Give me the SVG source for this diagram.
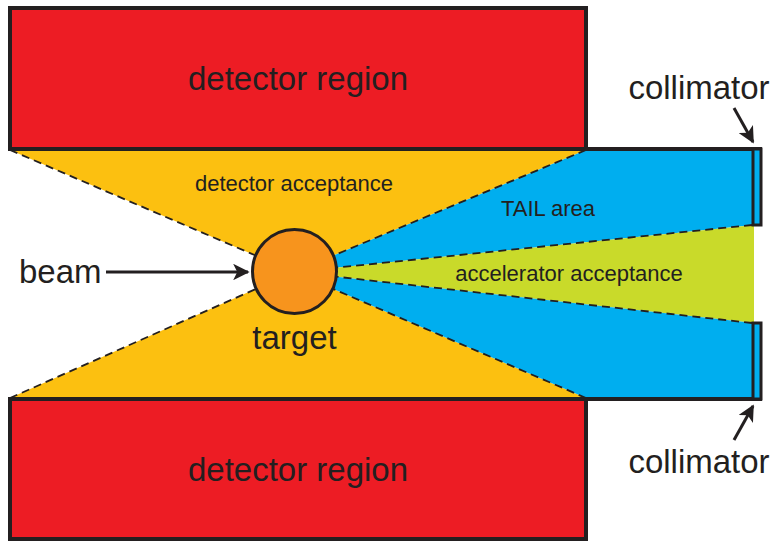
<svg xmlns="http://www.w3.org/2000/svg" width="782" height="542" viewBox="0 0 782 542">
<defs>
<style>
.lbl{font-family:"Liberation Sans",Arial,sans-serif;fill:#231F20}
.big{font-size:33px}
.sm{font-size:22px}
.dash{stroke:#231F20;stroke-width:1.8;stroke-dasharray:8 5;fill:none}
.edge{stroke:#231F20;stroke-width:4;fill:none}
</style>
<marker id="ah" viewBox="0 0 10 10" refX="9" refY="5" markerWidth="5.5" markerHeight="5.5" orient="auto" markerUnits="strokeWidth">
<path d="M0,0 L10,5 L0,10 L2.5,5 Z" fill="#231F20"/>
</marker>
</defs>
<rect width="782" height="542" fill="#fff"/>
<g id="fills">
<polygon points="10,150 586,150 294,272" fill="#FCC010"/>
<polygon points="10,398 586,398 294,272" fill="#FCC010"/>
<polygon points="294,272 586,150 754,150 754,225" fill="#00AEEF"/>
<polygon points="294,272 754,225 754,323" fill="#C9DA2A"/>
<polygon points="294,272 754,323 754,398 586,398" fill="#00AEEF"/>
</g>
<g id="connectors">
<line class="dash" x1="10" y1="150" x2="294" y2="272"/>
<line class="dash" x1="10" y1="398" x2="294" y2="272"/>
<line class="dash" x1="586" y1="150" x2="294" y2="272"/>
<line class="dash" x1="586" y1="398" x2="294" y2="272"/>
<line class="dash" x1="752" y1="225" x2="294" y2="272"/>
<line class="dash" x1="752" y1="323" x2="294" y2="272"/>
<line x1="106" y1="272" x2="248" y2="272" stroke="#231F20" stroke-width="3" marker-end="url(#ah)"/>
<line x1="734" y1="108" x2="753" y2="142" stroke="#231F20" stroke-width="3" marker-end="url(#ah)"/>
<line x1="734" y1="440" x2="753" y2="406" stroke="#231F20" stroke-width="3" marker-end="url(#ah)"/>
</g>
<g id="beamline-walls">
<line class="edge" x1="586" y1="149" x2="762" y2="149"/>
<line class="edge" x1="586" y1="399" x2="762" y2="399"/>
</g>
<g id="detector-top">
<rect x="10" y="8" width="576" height="141" fill="#ED1C24" stroke="#231F20" stroke-width="4"/>
<text class="lbl" x="298" y="90" font-size="33" text-anchor="middle">detector region</text>
</g>
<g id="detector-bottom">
<rect x="10" y="399" width="576" height="140" fill="#ED1C24" stroke="#231F20" stroke-width="4"/>
<text class="lbl" x="298" y="481" font-size="33" text-anchor="middle">detector region</text>
</g>
<g id="collimator-top">
<rect x="753" y="149" width="8" height="76" fill="#00AEEF" stroke="#231F20" stroke-width="3"/>
<text class="lbl big" x="699" y="99" text-anchor="middle">collimator</text>
</g>
<g id="collimator-bottom">
<rect x="753" y="323" width="8" height="76" fill="#00AEEF" stroke="#231F20" stroke-width="3"/>
<text class="lbl big" x="699" y="473" text-anchor="middle">collimator</text>
</g>
<g id="target">
<circle cx="294.5" cy="271.5" r="42" fill="#F7941D" stroke="#231F20" stroke-width="3"/>
<text class="lbl big" x="294.5" y="349" text-anchor="middle">target</text>
</g>
<g id="beam">
<text class="lbl big" x="19" y="283">beam</text>
</g>
<g id="labels">
<text class="lbl sm" x="294" y="191" text-anchor="middle">detector acceptance</text>
<text class="lbl sm" x="548" y="216" text-anchor="middle">TAIL area</text>
<text class="lbl sm" x="569" y="281" text-anchor="middle">accelerator acceptance</text>
</g>
</svg>
